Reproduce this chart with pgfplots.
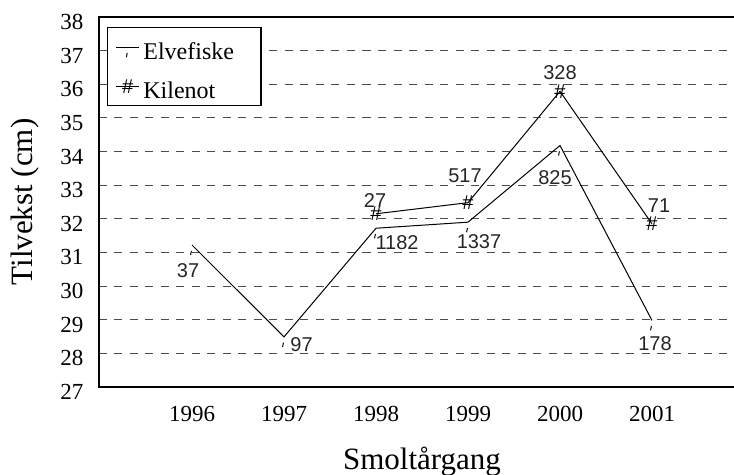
\documentclass[border=0pt]{standalone}
\usepackage{fontspec}
\setmainfont{Liberation Serif}
\newfontfamily\arialf{Liberation Sans}
\usepackage{pgfplots}
\usepackage{pgfplotstable}
\pgfplotsset{compat=1.18}

\pgfdeclareplotmark{elvetick}{%
  \pgfpathmoveto{\pgfqpoint{-0.7pt}{-5pt}}%
  \pgfpathlineto{\pgfqpoint{-0.3pt}{-2.9pt}}%
  \pgfusepathqstroke}

\pgfplotstableread{
x y dx dy lab
1996 31.22 -2 -12.75 37
1997 28.49 8.8 -3.7 97
1998 31.72 10.5 -7.4 1182
1999 31.90 5.5 -9.8 1337
2000 34.18 -2.5 -15.9 825
2001 28.98 1.5 -11.8 178
}\elve
\pgfplotstableread{
x y dx dy lab
1998 32.15 -0.5 6.5 27
1999 32.48 -1.5 13.6 517
2000 35.79 0 9.5 328
2001 31.85 3.5 9 71
}\kile

\begin{document}
\begin{tikzpicture}
\begin{axis}[
  name=ax, at={(0,0)}, anchor=south west,
  scale only axis, width=318.5pt, height=185pt,
  xmin=1994.989, xmax=2001.913, ymin=27, ymax=38,
  axis line style={line width=0.6pt, black},
  xtick={1996,1997,1998,1999,2000,2001},
  xticklabels={1996,1997,1998,1999,2000,2001},
  ytick={27,28,...,38},
  major tick length=0pt, tick style={draw=none},
  ymajorgrids,
  major grid style={black!70, line width=0.5pt, dash pattern=on 4pt off 3.75pt},
  tick label style={font=\fontsize{11.5}{13}\selectfont},
  yticklabel style={xshift=-4.3pt, yshift=-2.5pt},
  xticklabel style={yshift=-6.3pt},
  /pgf/number format/assume math mode=true,
  xlabel={Smoltårgang}, ylabel={Tilvekst (cm)},
  label style={font=\fontsize{15.5}{18}\selectfont},
  xlabel style={at={(axis description cs:0.507,-0.2243)}, anchor=base},
  ylabel style={at={(axis description cs:-0.1039,0.5)}, anchor=base},
  legend style={at={(0,1)}, anchor=north west, xshift=4.15pt, yshift=-5.15pt,
    draw=black, line width=0.6pt, inner xsep=3.85pt, inner ysep=3.4pt,
    font=\fontsize{12}{14}\selectfont, row sep=7pt, column sep=1.7pt,
    cells={anchor=west},
    nodes={inner sep=0pt, text height=12.5pt, text depth=0pt}},
  legend image code/.code={%
    \draw[mark repeat=2,mark phase=2,#1] plot coordinates {(0pt,0pt) (5.85pt,0pt) (11.7pt,0pt)};},
]
\addplot[black, line width=0.5pt, mark=elvetick, mark options={solid, line width=0.5pt},
  nodes near coords, point meta=explicit symbolic,
  visualization depends on={\thisrow{dx}\as\mydx},
  visualization depends on={\thisrow{dy}\as\mydy},
  every node near coord/.append style={anchor=center, xshift=\mydx pt, yshift=\mydy pt,
    font=\arialf\fontsize{10}{12}\selectfont, inner sep=0pt, text=black!85}
] table[x=x, y=y, meta=lab] {\elve};
\addlegendentry{\makebox[55pt][l]{Elvefiske}}
\addplot[black, line width=0.5pt, mark=text,
  text mark={\arialf\fontsize{10}{12}\selectfont\#},
  nodes near coords, point meta=explicit symbolic,
  visualization depends on={\thisrow{dx}\as\mydx},
  visualization depends on={\thisrow{dy}\as\mydy},
  every node near coord/.append style={anchor=center, xshift=\mydx pt, yshift=\mydy pt,
    font=\arialf\fontsize{10}{12}\selectfont, inner sep=0pt, text=black!85}
] table[x=x, y=y, meta=lab] {\kile};
\addlegendentry{\makebox[55pt][l]{Kilenot}}
\end{axis}
\pgfresetboundingbox
\useasboundingbox (-49.5pt,-44pt) rectangle (317.5pt,193.5pt);
\end{tikzpicture}
\end{document}
